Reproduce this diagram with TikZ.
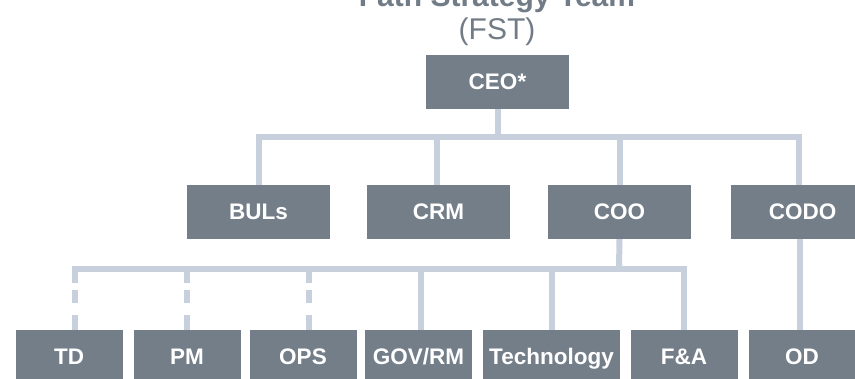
\documentclass[tikz,border=0pt]{standalone}
\usepackage{fontspec}
\setmainfont{Liberation Sans}
\definecolor{boxgray}{HTML}{737E89}
\definecolor{linegray}{HTML}{C8D0DD}
\definecolor{titlegray}{HTML}{717C87}
\begin{document}
\begin{tikzpicture}[x=1pt,y=-1pt,
  orgbox/.style={fill=boxgray,text=white,inner sep=0pt,minimum height=54pt,
    text height=15pt,text depth=-1.5pt,
    font=\fontsize{22.5}{25}\selectfont\bfseries},
  widebox/.style={orgbox,minimum width=143pt},
  smallbox/.style={orgbox,minimum width=107pt},
  conn/.style={draw=linegray,line width=6pt,line join=miter},
  dconn/.style={conn,dash pattern=on 14pt off 7pt on 13pt off 12pt on 15pt off 10pt}]
\useasboundingbox (0,0) rectangle (855,379);
\clip (0,0) rectangle (855,379);
% title
\node[anchor=base,text=titlegray,font=\fontsize{30}{34}\selectfont\bfseries,inner sep=0pt] (title) at (497,7) {Fath Strategy Team};
\node[anchor=base,text=titlegray,font=\fontsize{30}{34}\selectfont,inner sep=0pt] (abbr) at (497,40) {(FST)};
% boxes
\node[widebox] (ceo) at (497.5,82) {CEO*};
\node[widebox] (bul) at (258.5,212) {BULs};
\node[widebox] (crm) at (438.5,212) {CRM};
\node[widebox] (coo) at (619.5,212) {COO};
\node[widebox] (codo) at (802.5,212) {CODO};
\node[smallbox] (td) at (69,357) {TD};
\node[smallbox] (pm) at (187,357) {PM};
\node[smallbox] (ops) at (303,357) {OPS};
\node[smallbox] (gov) at (418.5,357) {GOV/RM};
\node[orgbox,minimum width=137pt] (tech) at (551.5,357) {Technology};
\node[smallbox] (fa) at (684,357) {F\&A};
\node[smallbox] (od) at (802,357) {OD};
% connector bars
\coordinate (bar1) at (498,137);
\coordinate (bar2) at (619,269);
\draw[conn] ([xshift=0.5pt]ceo.south) -- (bar1);
\draw[conn] (bul.north) |- (bar1) -| ([xshift=-3.5pt]codo.north);
\draw[conn] ([xshift=-1.5pt]crm.north) -- ([xshift=-1.5pt]crm.north |- bar1);
\draw[conn] ([xshift=0.5pt]coo.north) -- ([xshift=0.5pt]coo.north |- bar1);
\draw[conn] (coo.south) -- (bar2);
\draw[conn] ([xshift=3pt]td.north |- bar2) -| ([xshift=-0.5pt]fa.north);
\draw[dconn] ([xshift=6pt]td.north |- bar2) -- ([xshift=6pt]td.north);
\draw[dconn] (pm.north |- bar2) -- (pm.north);
\draw[dconn] ([xshift=6pt]ops.north |- bar2) -- ([xshift=6pt]ops.north);
\draw[conn] ([xshift=2pt]gov.north |- bar2) -- ([xshift=2pt]gov.north);
\draw[conn] (tech.north |- bar2) -- (tech.north);
\draw[conn] ([xshift=-3pt]codo.south) -- ([xshift=-3pt]codo.south |- od.north);
\end{tikzpicture}
\end{document}
